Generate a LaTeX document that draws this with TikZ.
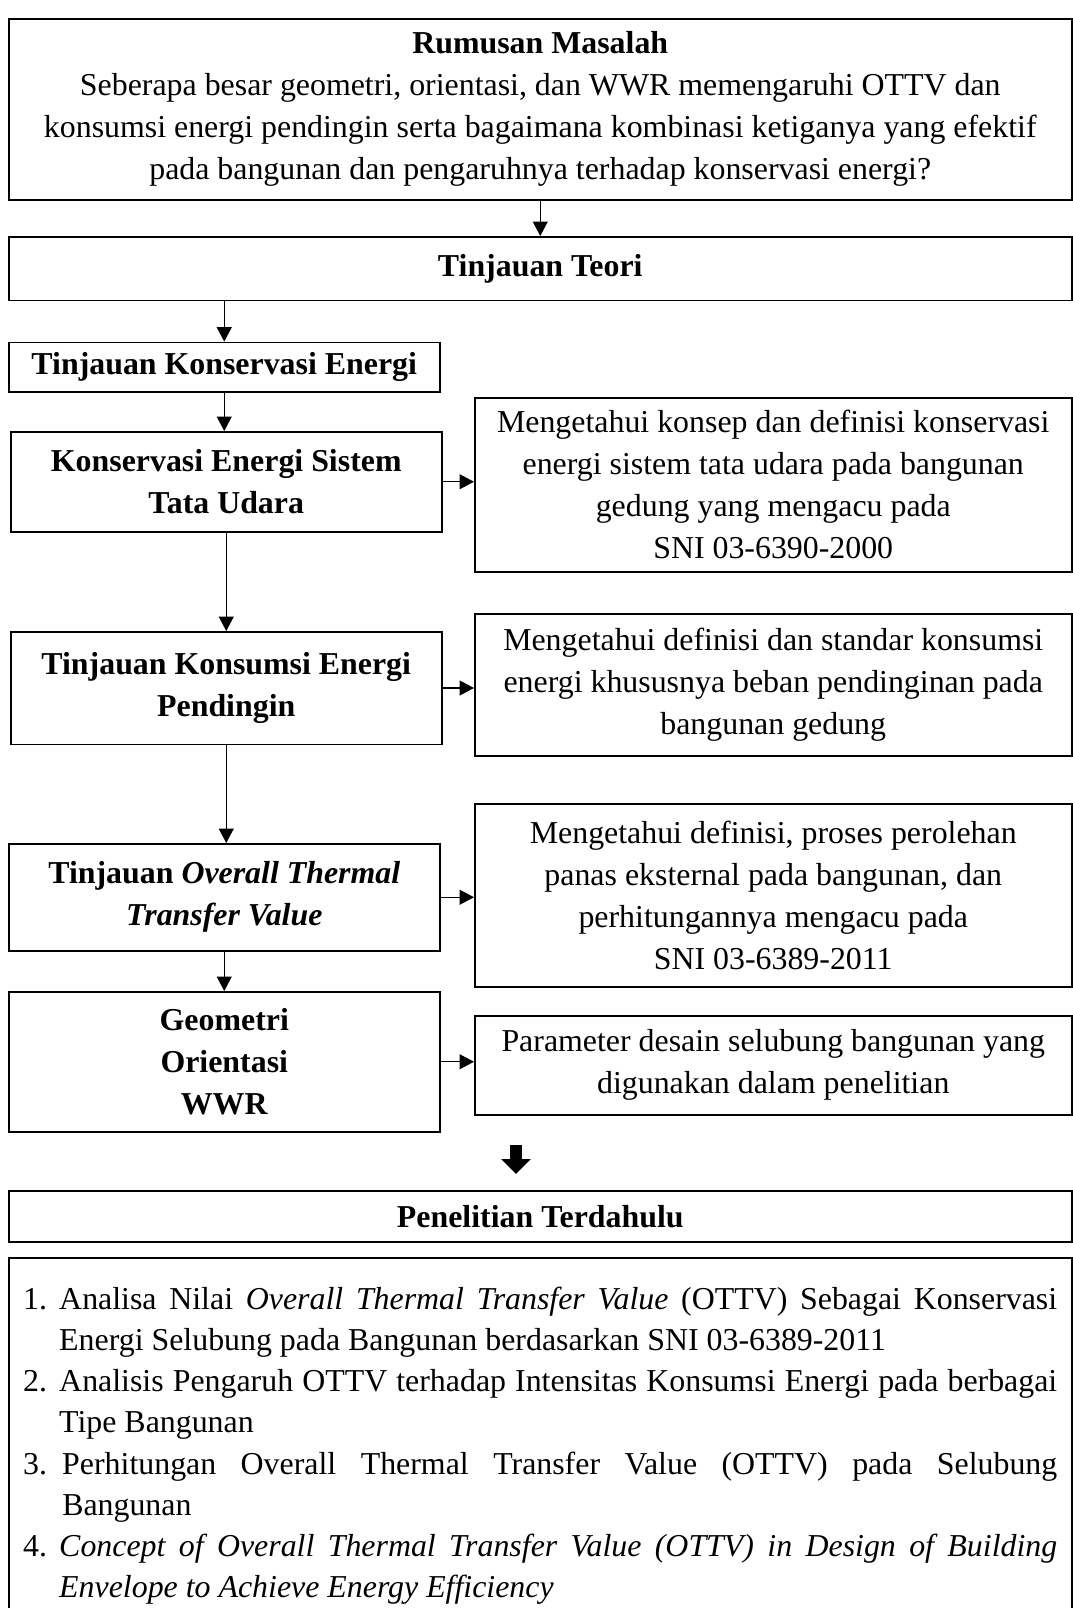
\documentclass[tikz,border=0pt]{standalone}
\usepackage{fontspec}
\setmainfont{Liberation Serif}
\usetikzlibrary{arrows.meta, positioning}

\begin{document}
\begin{tikzpicture}[
    x=0.4pt, y=-0.4pt,
    box/.style={rectangle, draw, line width=0.6pt, anchor=north west, align=center, inner sep=1pt, font=\fontsize{12.75}{16.8}\selectfont},
    widebox/.style={box, minimum width=425.2pt},
    leftbox/.style={box, minimum width=172.4pt, font=\fontsize{12.75}{16.8}\selectfont\bfseries},
    infobox/.style={box, minimum width=238.8pt},
    arrow/.style={-{Triangle[length=5.8pt, width=6pt]}, line width=0.5pt},
    bigarrow/.style={-{Triangle[length=6pt, width=11.6pt]}, line width=5pt}
]
    \useasboundingbox (0,0) rectangle (1073,1608);

    % problem statement and theory
    \node[widebox, minimum height=72.4pt] (rumusan) at (8,18) {\textbf{Rumusan Masalah}\\Seberapa besar geometri, orientasi, dan WWR memengaruhi OTTV dan\\konsumsi energi pendingin serta bagaimana kombinasi ketiganya yang efektif\\pada bangunan dan pengaruhnya terhadap konservasi energi?};
    \node[widebox, minimum height=25.4pt, font=\fontsize{12.75}{16.8}\selectfont\bfseries] (teori) at (8,236) {Tinjauan Teori};

    % left column
    \node[leftbox, minimum height=19.8pt] (konservasi) at (8,341.6) {Tinjauan Konservasi Energi};
    \node[leftbox, minimum height=40pt] (tataudara) at (10,431) {Konservasi Energi Sistem\\Tata Udara};
    \node[leftbox, minimum height=45pt] (konsumsi) at (10,631) {Tinjauan Konsumsi Energi\\Pendingin};
    \node[leftbox, minimum height=42.8pt] (ottv) at (8,843) {Tinjauan \textit{Overall Thermal}\\\textit{Transfer Value}};
    \node[leftbox, minimum height=56pt] (parameter) at (8,991) {Geometri\\Orientasi\\WWR};

    % right column
    \node[infobox, minimum height=69.6pt] (info1) at (474,397) {Mengetahui konsep dan definisi konservasi\\energi sistem tata udara pada bangunan\\gedung yang mengacu pada\\SNI 03-6390-2000};
    \node[infobox, minimum height=56.8pt] (info2) at (474,613) {Mengetahui definisi dan standar konsumsi\\energi khususnya beban pendinginan pada\\bangunan gedung};
    \node[infobox, minimum height=73.2pt] (info3) at (474,803) {Mengetahui definisi, proses perolehan\\panas eksternal pada bangunan, dan\\perhitungannya mengacu pada\\SNI 03-6389-2011};
    \node[infobox, minimum height=39.6pt] (info4) at (474,1015) {Parameter desain selubung bangunan yang\\digunakan dalam penelitian};

    % previous research
    \node[widebox, minimum height=20.4pt, font=\fontsize{12.75}{16.8}\selectfont\bfseries] (penelitian) at (8,1190) {Penelitian Terdahulu};
    \node[box, text width=413.6pt, inner xsep=5.8pt, inner ysep=11.6pt, align=justify, font=\fontsize{12.75}{16.5}\selectfont] (daftar) at (8,1257) {%
        \hangindent=14.4pt\hangafter=1\noindent\makebox[14.4pt][l]{1.}Analisa Nilai \textit{Overall Thermal Transfer Value} (OTTV) Sebagai Konservasi\linebreak Energi Selubung pada Bangunan berdasarkan SNI 03-6389-2011\par
        \hangindent=14.4pt\hangafter=1\noindent\makebox[14.4pt][l]{2.}Analisis Pengaruh OTTV terhadap Intensitas Konsumsi Energi pada berbagai\linebreak Tipe Bangunan\par
        \hangindent=15.6pt\hangafter=1\noindent\makebox[15.6pt][l]{3.}Perhitungan Overall Thermal Transfer Value (OTTV) pada Selubung\linebreak Bangunan\par
        \hangindent=14.4pt\hangafter=1\noindent\makebox[14.4pt][l]{4.}\textit{Concept of Overall Thermal Transfer Value (OTTV) in Design of Building\linebreak Envelope to Achieve Energy Efficiency}\par};

    % connectors
    \draw[arrow] (rumusan.south) -- (teori.north);
    \draw[arrow] (teori.south -| konservasi.north) -- (konservasi.north);
    \draw[arrow] (konservasi.south) -- (konservasi.south |- tataudara.north);
    \draw[arrow] (tataudara.south) -- (tataudara.south |- konsumsi.north);
    \draw[arrow] (konsumsi.south) -- (konsumsi.south |- ottv.north);
    \draw[arrow] (ottv.south) -- (ottv.south |- parameter.north);
    \draw[arrow] (tataudara.east) -- (tataudara.east -| info1.west);
    \draw[arrow] (konsumsi.east) -- (konsumsi.east -| info2.west);
    \draw[arrow] (ottv.east) -- (ottv.east -| info3.west);
    \draw[arrow] (parameter.east) -- (parameter.east -| info4.west);
    \coordinate (tebal) at (516,1145);
    \draw[bigarrow, shorten >=6.4pt] (tebal) -- (tebal |- penelitian.north);
\end{tikzpicture}
\end{document}
